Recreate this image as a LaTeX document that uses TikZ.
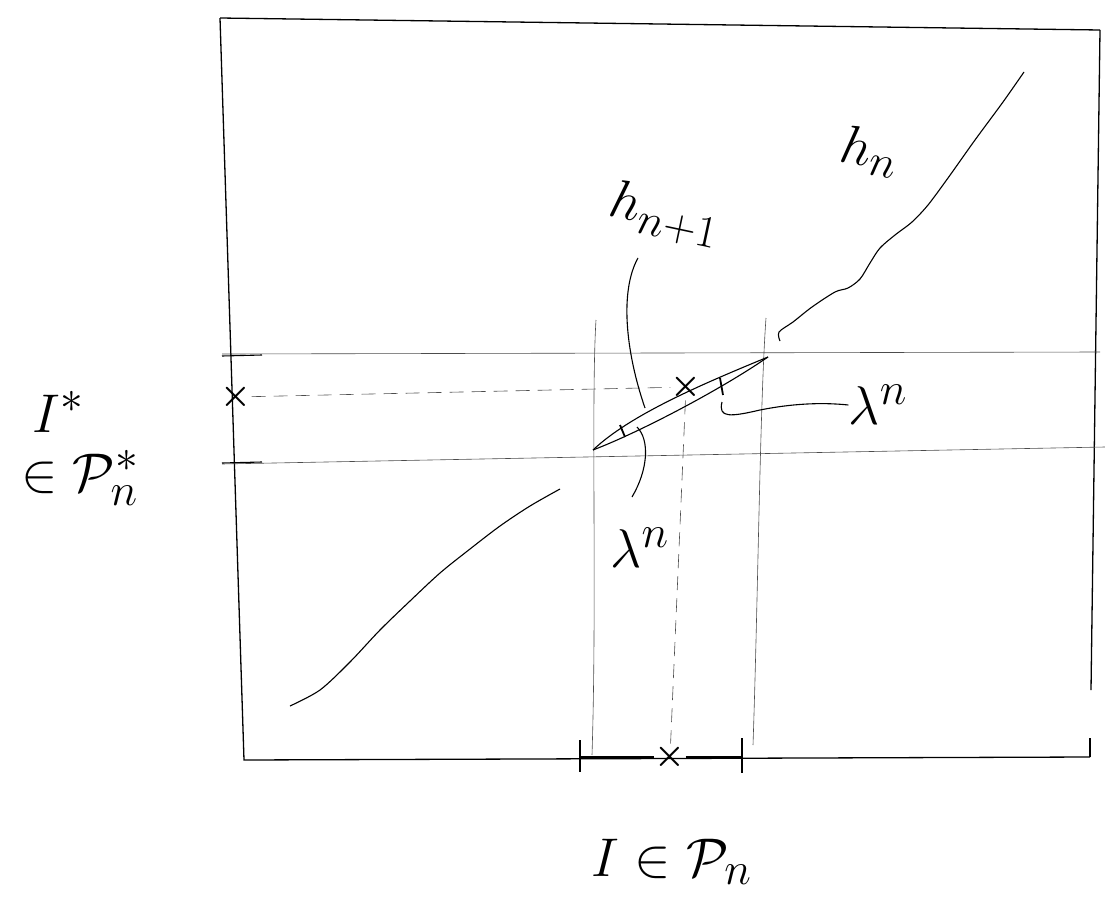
\documentclass[tikz,border=0pt]{standalone}
\usepackage{amsmath}
\usepackage{amssymb}
\newcommand{\biglbl}[1]{\scalebox{2.2}{\Huge #1}}
\newcommand{\xmark}{\scalebox{2.4}{\Large$\boldsymbol{\times}$}}
\begin{document}
\begin{tikzpicture}[x=1bp,y=-1bp,
  frame/.style={line width=1.3bp,black},
  guide/.style={line width=0.6bp,black!70},
  ink/.style={line width=1.1bp,black},
  lbl/.style={inner sep=0pt},
  cross/.style={inner sep=0pt}]
\useasboundingbox (0,0) rectangle (1105,908);
% frame
\coordinate (tl) at (220,18);
\coordinate (tr) at (1100,30);
\coordinate (br) at (1090,757);
\coordinate (bl) at (244,760);
\draw[frame] (tl) -- (tr);
\draw[frame] (tl) -- (bl) -- (br);
\draw[frame] (tr) -- (1091,690);
\draw[frame] (1090,738) -- (br);
% horizontal guides
\coordinate (hu1) at (222,354);
\coordinate (hu2) at (1100,352);
\coordinate (hl1) at (222,464);
\coordinate (hl2) at (1105,447);
\draw[guide] (hu1) -- (hu2);
\draw[guide] (hl1) -- (hl2);
\draw[ink] (222,356) -- (262,355);
\draw[ink] (222,463) -- (262,462);
% vertical guides
\coordinate (vl1) at (596,320);
\coordinate (vl2) at (592,755);
\coordinate (vr1) at (766,318);
\coordinate (vr2) at (753,745);
\draw[guide] (vl1) .. controls (591,400) and (597,600) .. (vl2);
\draw[guide] (vr1) .. controls (760,400) and (758,600) .. (vr2);
% crosses and dashed lines
\node[cross] (xs) at (236,397) {\xmark};
\node[cross] (xc) at (686,387) {\xmark};
\node[cross] (xb) at (670,757) {\xmark};
\draw[guide,dash pattern=on 14bp off 8bp] (xs) -- (xc);
\draw[guide,dash pattern=on 14bp off 8bp] (xc) -- (xb);
% bottom interval
\coordinate (ia) at (580,757);
\coordinate (ib) at (742,757);
\draw[ink] (ia) -- (xb) -- (ib);
\draw[ink,line width=1.6bp] (580,740) -- (580,772);
\draw[ink,line width=1.6bp] (742,738) -- (742,773);
% lens
\coordinate (lA) at (593,450);
\coordinate (lB) at (768,357);
\draw[ink] (lA) .. controls (630,415) and (700,385) .. (lB);
\draw[ink] (lA) .. controls (640,432) and (720,390) .. (lB);
\draw[ink,line width=1.8bp] (620,425) -- (625,437);
\draw[ink,line width=1.8bp] (720,378) -- (723,395);
% h_n curve
\draw[ink] plot[smooth] coordinates {(780,341) (779,332) (793,322) (812,307) (835,292) (848,288) (860,279) (870,263) (880,248) (895,235) (912,222) (928,205) (948,178) (975,140) (1003,102) (1024,72)};
\draw[ink] plot[smooth] coordinates {(290,706) (320,690) (350,662) (380,630) (410,601) (440,573) (470,549) (500,526) (530,506) (560,489)};
% labels
\node[lbl,rotate=-12] (hnp) at (665,215) {\biglbl{$h_{n+1}$}};
\node[lbl,rotate=-10] (hn) at (870,152) {\biglbl{$h_n$}};
\node[lbl] (lamR) at (878,405) {\biglbl{$\lambda^n$}};
\node[lbl] (lamL) at (640,548) {\biglbl{$\lambda^n$}};
\node[lbl] (Is) at (58,412) {\biglbl{$I^*$}};
\node[lbl] (Ps) at (80,478) {\biglbl{$\in\mathcal{P}^*_n$}};
\node[lbl] (Ib) at (672,862) {\biglbl{$I\in\mathcal{P}_n$}};
% pointers
\coordinate (pA) at (638,258);
\draw[ink] (pA) .. controls (620,290) and (625,350) .. (645,408);
\coordinate (pB) at (637,427);
\draw[ink] (pB) .. controls (650,440) and (648,470) .. (632,497);
\draw[ink] (722,402) .. controls (718,418) and (730,417) .. (760,410) .. controls (790,404) and (820,402) .. (lamR.west);
\end{tikzpicture}
\end{document}
